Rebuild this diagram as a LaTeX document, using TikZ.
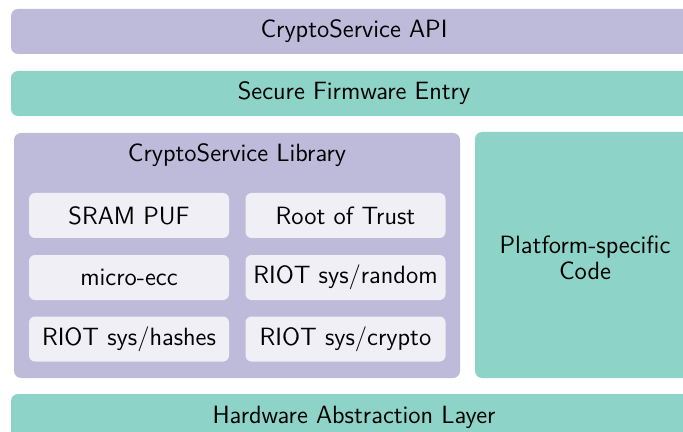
\documentclass[tikz,border=0pt]{standalone}
\usepackage{tikz}

\definecolor{violetlayer}{HTML}{BEBADA}
\definecolor{tealayer}{HTML}{8DD3C7}
\definecolor{partfill}{HTML}{F0EFF6}

\begin{document}
\begin{tikzpicture}[x=0.5pt, y=-0.5pt,
    bigtext/.style={font=\sffamily\fontsize{12.5}{13.3}\selectfont, align=center},
    part/.style={bigtext, fill=partfill, rounded corners=3pt,
      minimum width=100pt, minimum height=22.5pt, inner sep=0pt}]
    \useasboundingbox (0, 0) rectangle (683, 432);
    \clip (0, 0) rectangle (683, 432);

    % layers
    \fill[violetlayer, rounded corners=3.5pt] ( 11,   9) rectangle (720,  54);
    \fill[tealayer,    rounded corners=3.5pt] ( 11,  71) rectangle (720, 116);
    \fill[violetlayer, rounded corners=3.5pt] ( 14, 133) rectangle (460, 378);
    \fill[tealayer,    rounded corners=3.5pt] (475, 132) rectangle (720, 378);
    \fill[tealayer,    rounded corners=3.5pt] ( 11, 394) rectangle (720, 460);

    \node[bigtext] (api) at (354,  31.5) {CryptoService API};
    \node[bigtext] (sfe) at (354,  93.5) {Secure Firmware Entry};
    \node[bigtext] (hal) at (354, 417)   {Hardware Abstraction Layer};
    \node[bigtext] (lib) at (237, 155)   {CryptoService Library};
    \node[bigtext] (platform) at (585, 258) {Platform-specific\\Code};

    % library parts
    \node[part] (puf)    at (129,   215.5) {SRAM PUF};
    \node[part] (rot)    at (345.5, 215.5) {Root of Trust};
    \node[part] (ecc)    at (129,   277.5) {micro-ecc};
    \node[part] (random) at (345.5, 277.5) {RIOT sys/random};
    \node[part] (hashes) at (129,   339)   {RIOT sys/hashes};
    \node[part] (crypto) at (345.5, 339)   {RIOT sys/crypto};
  \end{tikzpicture}
\end{document}
